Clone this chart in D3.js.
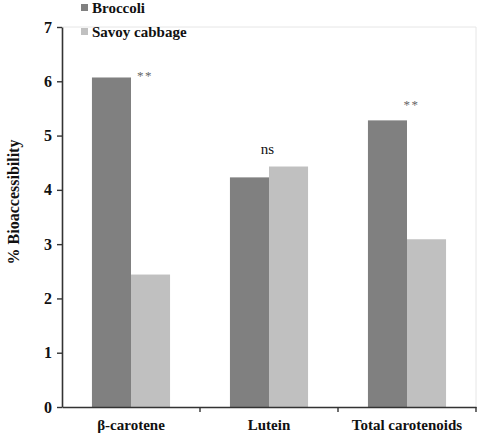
<!DOCTYPE html>
<html>
<head>
<meta charset="utf-8">
<script src="https://cdn.jsdelivr.net/npm/d3@7"></script>
</head>
<body style="margin:0; background:#fff">
<div id="chart"></div>
<script>
// data
const categories = ["β-carotene", "Lutein", "Total carotenoids"]
const series = ["Broccoli", "Savoy cabbage"]
const broccoli = [6.07, 4.23, 5.28]
const savoy = [2.44, 4.43, 3.09]
const marks = ["**", "ns", "**"]
const yTicks = [0, 1, 2, 3, 4, 5, 6, 7]

const FONT = "Liberation Serif"
const width = 480
const height = 434
const margin = { top: 27, bottom: 27, right: 4, left: 62 }
const colors = ["#808080", "#c0c0c0"]

const svg = d3.select("div#chart").append("svg").attr("width", width).attr("height", height)
    .attr("font-family", FONT).style("font-family", FONT)
const innerW = width - margin.left - margin.right
const innerH = height - margin.top - margin.bottom
const g = svg.append("g").attr("transform", `translate(${margin.left}, ${margin.top})`)

const x = d3.scaleBand().domain(categories).range([0, innerW])
const xs = d3.scaleBand().domain(series).range([x.bandwidth() * 0.217, x.bandwidth() * 0.783])
const y = d3.scaleLinear().domain([0, 7]).range([innerH, 0])

// light frame top & right
g.append("line").attr("x1", 0).attr("x2", innerW).attr("y1", 0).attr("y2", 0)
    .attr("stroke", "#e6e6e6").attr("stroke-width", 1)
g.append("line").attr("x1", innerW).attr("x2", innerW).attr("y1", 0).attr("y2", innerH)
    .attr("stroke", "#e6e6e6").attr("stroke-width", 1)

// bars
const rows = categories.map((c, i) => ({ cat: c, vals: [broccoli[i], savoy[i]] }))
const groups = g.selectAll("g.grp").data(rows).enter().append("g")
    .attr("class", "grp").attr("transform", d => `translate(${x(d.cat)},0)`)
groups.selectAll("rect").data(d => d.vals.map((v, j) => ({ s: series[j], v: v, j: j })))
    .enter().append("rect")
    .attr("x", d => xs(d.s))
    .attr("y", d => y(d.v))
    .attr("width", xs.bandwidth())
    .attr("height", d => innerH - y(d.v))
    .attr("fill", d => colors[d.j])

// significance marks (placed relative to the broccoli bar, like the original)
const markDx = [14, -1.5, 4.5]
const markDy = [-3, 0, 11]
groups.append("text")
    .attr("x", (d, i) => xs("Savoy cabbage") + markDx[i])
    .attr("y", (d, i) => i === 1 ? y(d3.max(d.vals)) - 13 : y(d.vals[0]) - markDy[i])
    .attr("text-anchor", "middle")
    .attr("font-size", (d, i) => i === 1 ? 15 : 13)
    .attr("letter-spacing", (d, i) => i === 1 ? 0 : 1.5)
    .attr("fill", (d, i) => i === 1 ? "#111" : "#666")
    .style("font-family", FONT)
    .text((d, i) => marks[i])

// axes
const yAxis = d3.axisLeft(y).tickValues(yTicks).tickSize(5).tickSizeOuter(0).tickFormat(d3.format("d"))
const yg = g.append("g").call(yAxis).attr("font-family", FONT)
yg.selectAll("text").attr("font-size", 16).attr("font-weight", "bold").attr("fill", "#111")
    .attr("x", -10).style("font-family", FONT)
yg.select(".domain").attr("stroke", "#333").attr("stroke-width", 1.6)
yg.selectAll(".tick line").attr("stroke", "#333").attr("stroke-width", 1.4)

const xAxis = d3.axisBottom(x).tickSize(0).tickSizeOuter(0)
const xg = g.append("g").attr("transform", `translate(0, ${innerH})`).call(xAxis).attr("font-family", FONT)
xg.select(".domain").attr("stroke", "#333").attr("stroke-width", 1.6)
xg.selectAll("text").attr("font-size", 15).attr("font-weight", "bold").attr("fill", "#111")
    .attr("dy", "1.3em").style("font-family", FONT)
// separators between categories
xg.selectAll("line.sep").data(categories).enter().append("line")
    .attr("class", "sep")
    .attr("x1", (d, i) => x.step() * (i + 1)).attr("x2", (d, i) => x.step() * (i + 1))
    .attr("y1", 0).attr("y2", 5)
    .attr("stroke", "#333").attr("stroke-width", 1.4)

// y label
svg.append("text")
    .attr("transform", `translate(19, 202) rotate(-90)`)
    .attr("text-anchor", "middle")
    .attr("font-size", 16).attr("font-weight", "bold").attr("fill", "#111")
    .style("font-family", FONT)
    .text("% Bioaccessibility")

// legend
const legend = svg.append("g").attr("transform", "translate(81, 4)")
const li = legend.selectAll("g").data(series).enter().append("g")
    .attr("transform", (d, i) => `translate(0, ${i * 24})`)
li.append("rect").attr("width", 7).attr("height", 7).attr("fill", (d, i) => colors[i])
li.append("text").attr("x", 11).attr("y", 9)
    .attr("font-size", 15).attr("font-weight", "bold").attr("fill", "#111")
    .style("font-family", FONT)
    .text(d => d)
</script>
</body>
</html>
